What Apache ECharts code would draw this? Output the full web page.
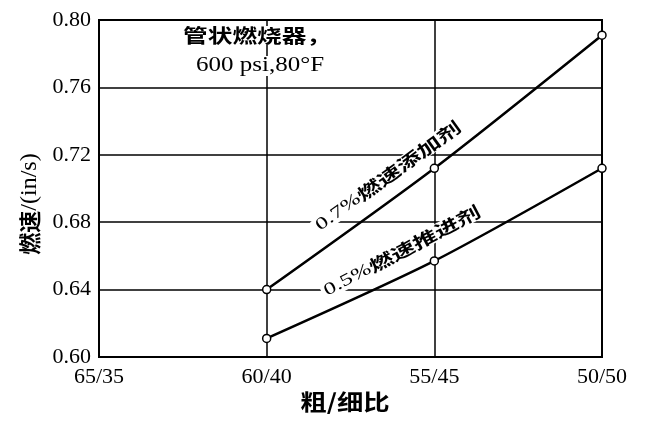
<!DOCTYPE html>
<html><head><meta charset="utf-8">
<script src="https://cdn.jsdelivr.net/npm/echarts@6/dist/echarts.min.js"></script>
<style>html,body{margin:0;padding:0;background:#fff}#c{width:655px;height:431px}</style>
</head><body><div id="c"></div>
<script>
const categories = ['65/35', '60/40', '55/45', '50/50'];
const additive07 = [null, 0.640, 0.712, 0.791];
const propellant05 = [null, 0.611, 0.657, 0.712];
const yTicks = [0.60, 0.64, 0.68, 0.72, 0.76, 0.80];

const serif = '"Liberation Serif","Times New Roman",serif';
const cjk = '"Noto Sans CJK SC",sans-serif';
const chart = echarts.init(document.getElementById('c'));
const lineSeries = (name, data) => ({
  name, type: 'line', data, smooth: 0.25, connectNulls: false,
  symbol: 'circle', symbolSize: 8,
  lineStyle: { color: '#000', width: 2.5 },
  itemStyle: { color: '#fff', borderColor: '#000', borderWidth: 1.5 },
  z: 5
});
const curveLabel = (x, y, deg, pct, name) => ({
  type: 'text', x, y, rotation: deg * Math.PI / 180, scaleX: 1.45, z: 1,
  style: { text: '{a|' + pct + '}{b|' + name + '}', align: 'center', verticalAlign: 'middle',
    backgroundColor: '#fff', padding: [0, 2],
    rich: { a: { font: '17px ' + serif, fill: '#000' }, b: { font: 'bold 17px ' + cjk, fill: '#000' } } }
});
chart.setOption({
  animation: false,
  grid: { left: 99, right: 53, top: 20, bottom: 74, show: true, borderColor: '#000', borderWidth: 2 },
  xAxis: {
    type: 'category', data: categories, boundaryGap: false,
    axisLine: { lineStyle: { color: '#000', width: 2 } },
    axisTick: { show: false },
    axisLabel: { color: '#000', fontFamily: serif, fontSize: 22, margin: 9 },
    splitLine: { show: true, lineStyle: { color: '#000', width: 1.5 } }
  },
  yAxis: {
    type: 'value', min: yTicks[0], max: yTicks[yTicks.length - 1], interval: 0.04,
    axisLine: { show: true, lineStyle: { color: '#000', width: 2 } },
    axisTick: { show: false },
    axisLabel: { color: '#000', fontFamily: serif, fontSize: 22, margin: 8, formatter: v => v.toFixed(2) },
    splitLine: { show: true, lineStyle: { color: '#000', width: 1.5 } }
  },
  series: [lineSeries('0.7%燃速添加剂', additive07), lineSeries('0.5%燃速推进剂', propellant05)],
  graphic: [
    { type: 'text', x: 183, y: 26, scaleX: 1.3, z: 1,
      style: { text: '管状燃烧器，', font: 'bold 19px ' + cjk, fill: '#000', backgroundColor: '#fff' } },
    { type: 'text', x: 196, y: 56, scaleX: 1.25, z: 1,
      style: { text: '600 psi,80°F', font: '20px ' + serif, fill: '#000', backgroundColor: '#fff' } },
    curveLabel(388, 176, 36, '0.7%', '燃速添加剂'),
    curveLabel(402, 251, 28, '0.5%', '燃速推进剂'),
    { type: 'text', x: 30, y: 204, rotation: Math.PI / 2, z: 1,
      style: { text: '{c|燃速}{s|/(in/s)}', align: 'center', verticalAlign: 'middle',
        rich: { c: { font: 'bold 22px ' + cjk, fill: '#000' }, s: { font: '24px ' + serif, fill: '#000' } } } },
    { type: 'text', x: 345, y: 402, scaleX: 1.2, z: 1,
      style: { text: '粗/细比', align: 'center', verticalAlign: 'middle', font: 'bold 22px ' + cjk, fill: '#000' } }
  ]
});
</script></body></html>
